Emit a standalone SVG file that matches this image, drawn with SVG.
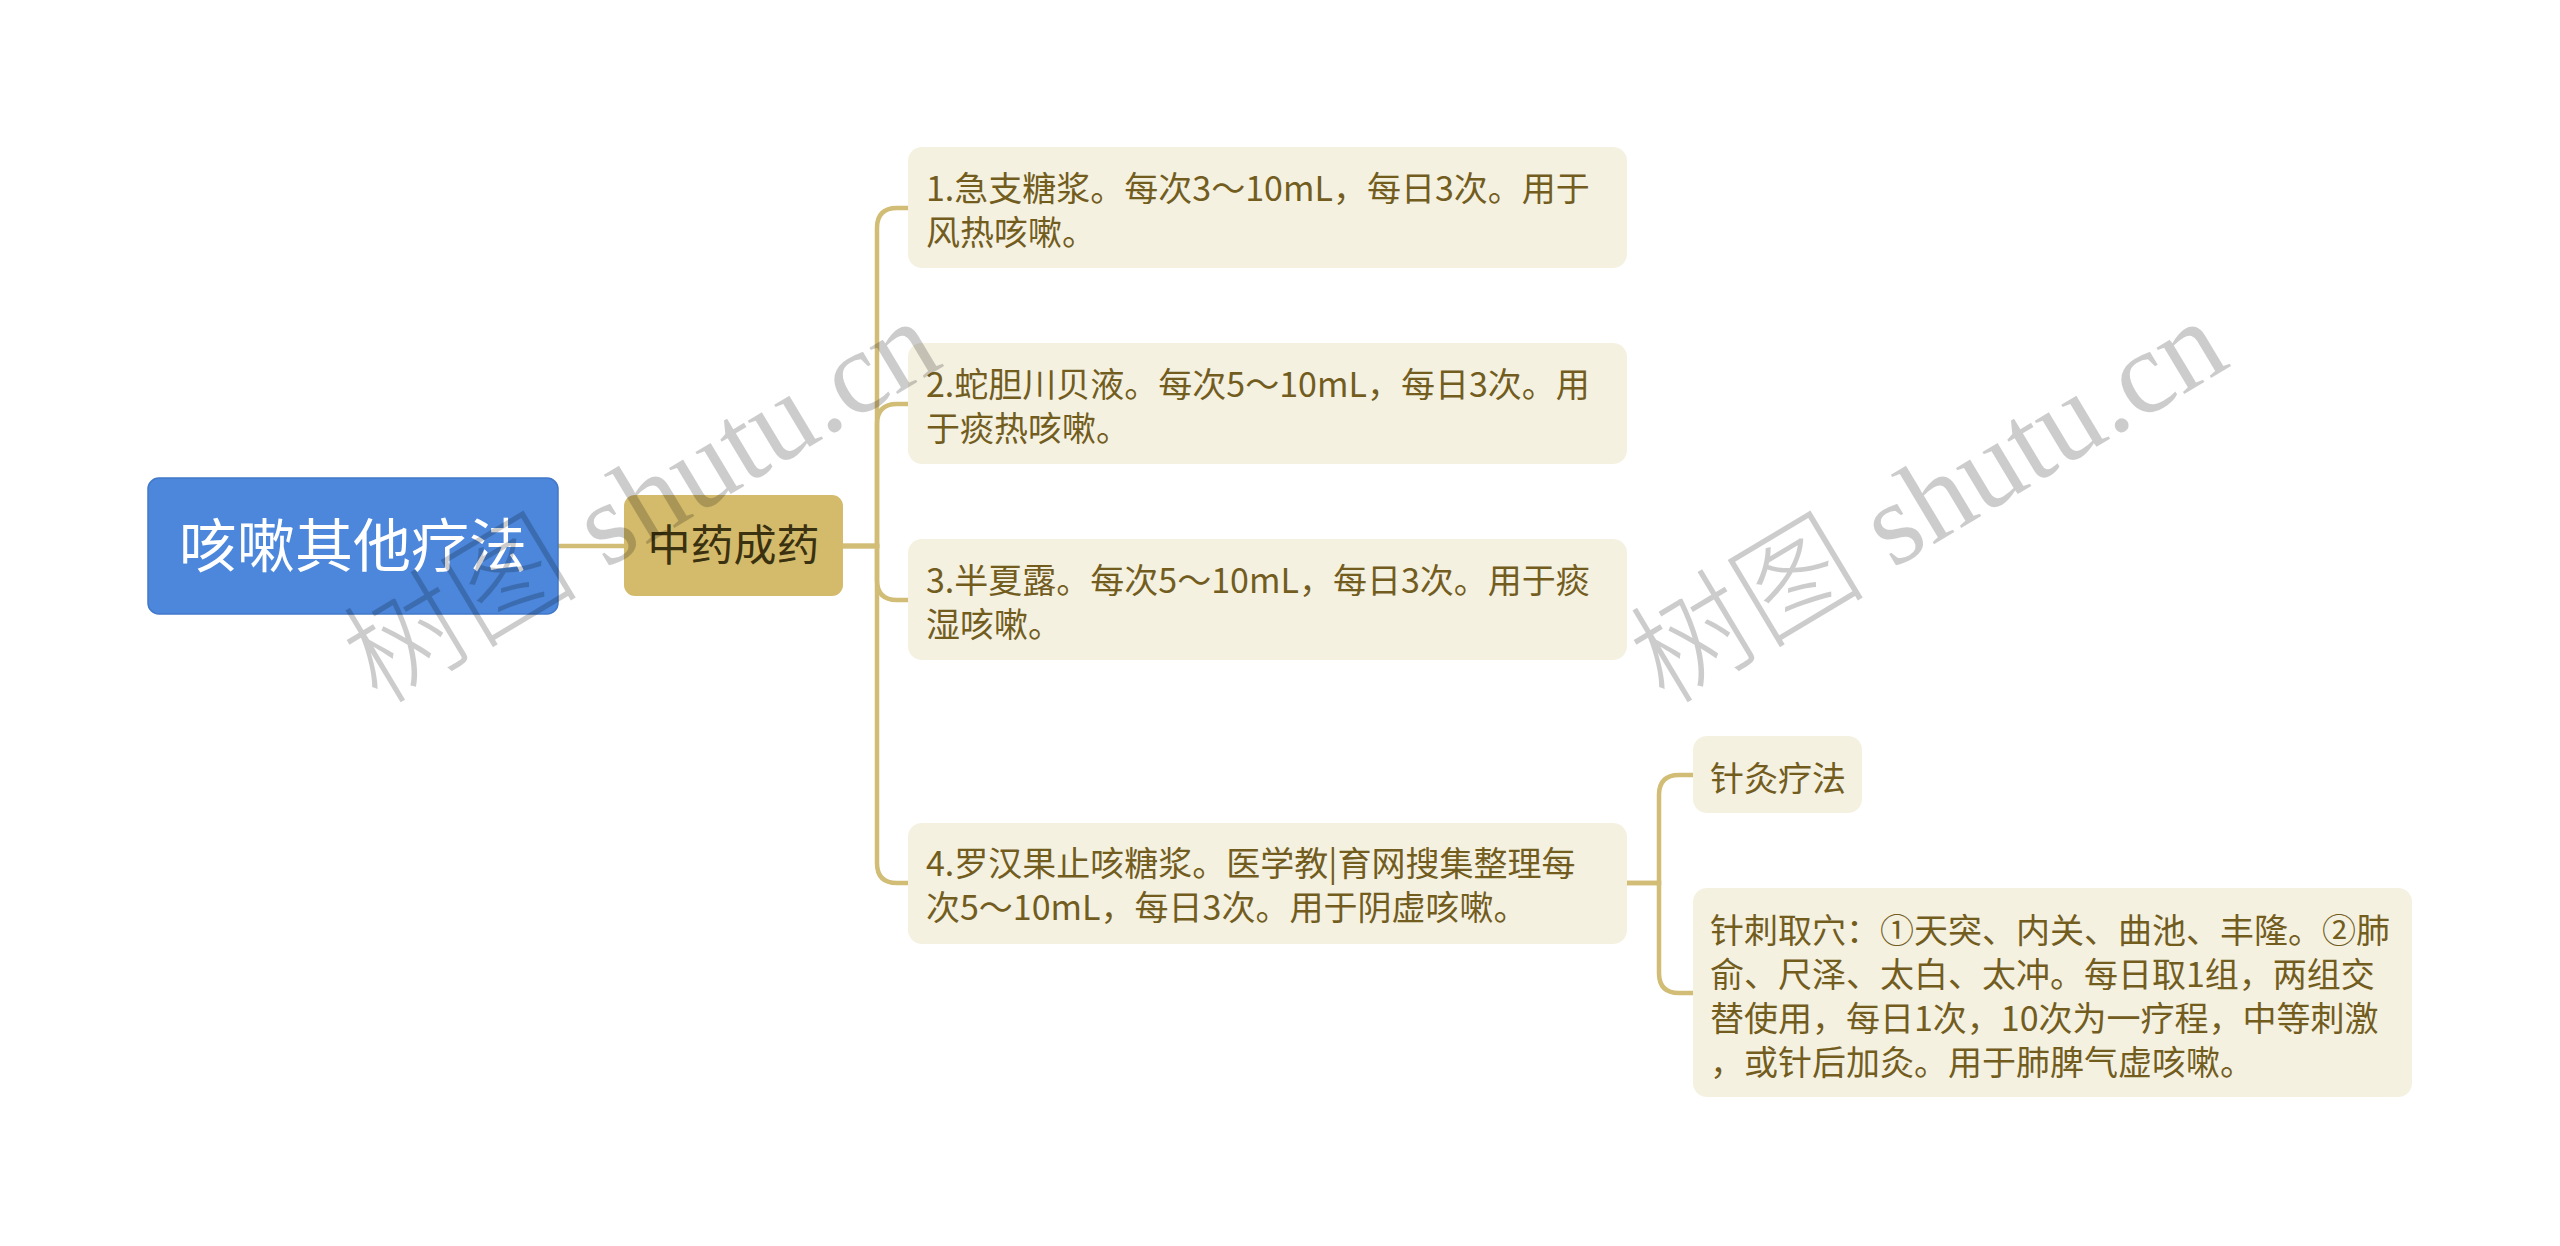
<svg xmlns="http://www.w3.org/2000/svg" width="2560" height="1246" viewBox="0 0 2560 1246">
<style>
.bg{fill:#ffffff}
.conn{fill:none;stroke:#d2bd76;stroke-width:4.5;stroke-linecap:round}
.leaf rect{fill:#f5f1e1}
.leaf text{font-family:"Noto Sans CJK SC","Noto Sans",sans-serif;font-size:34px;fill:#725d1f}
.wm{font-family:"Liberation Serif","Noto Sans CJK SC",serif;font-size:118px;font-weight:300;fill:#000;fill-opacity:0.2}
</style>
<rect class="bg" x="0" y="0" width="2560" height="1246"/>
<g id="connectors">
<path class="conn" d="M558 546 H624"/>
<path class="conn" d="M843 546 H877 V228 Q877 208 897 208 H908"/>
<path class="conn" d="M843 546 H877 V424 Q877 404 897 404 H908"/>
<path class="conn" d="M843 546 H877 V580 Q877 600 897 600 H908"/>
<path class="conn" d="M843 546 H877 V863 Q877 883 897 883 H908"/>
<path class="conn" d="M1627 883 H1659 V795 Q1659 775 1679 775 H1693"/>
<path class="conn" d="M1627 883 H1659 V973 Q1659 993 1679 993 H1693"/>
</g>
<g id="root">
<rect x="148" y="478" width="410" height="136" rx="11" fill="#4c87dc" stroke="#4178c8" stroke-width="1.5"/>
<text x="353" y="567" text-anchor="middle" font-family="Noto Sans CJK SC,Noto Sans,sans-serif" font-size="58" fill="#ffffff">咳嗽其他疗法</text>
</g>
<g id="n-zhongyao">
<rect x="624" y="495" width="219" height="101" rx="11" fill="#d4bb6b"/>
<text x="733.5" y="561" text-anchor="middle" font-family="Noto Sans CJK SC,Noto Sans,sans-serif" font-size="43" fill="#3a3110">中药成药</text>
</g>
<g id="n-1" class="leaf">
<rect x="908" y="147" width="719" height="121" rx="14"/>
<text x="926"><tspan x="926" y="201">1.急支糖浆。每次3～10mL，每日3次。用于</tspan><tspan x="926" y="245">风热咳嗽。</tspan></text>
</g>
<g id="n-2" class="leaf">
<rect x="908" y="343" width="719" height="121" rx="14"/>
<text x="926"><tspan x="926" y="397">2.蛇胆川贝液。每次5～10mL，每日3次。用</tspan><tspan x="926" y="441">于痰热咳嗽。</tspan></text>
</g>
<g id="n-3" class="leaf">
<rect x="908" y="539" width="719" height="121" rx="14"/>
<text x="926"><tspan x="926" y="593">3.半夏露。每次5～10mL，每日3次。用于痰</tspan><tspan x="926" y="637">湿咳嗽。</tspan></text>
</g>
<g id="n-4" class="leaf">
<rect x="908" y="823" width="719" height="121" rx="14"/>
<text x="926"><tspan x="926" y="876">4.罗汉果止咳糖浆。医学教|育网搜集整理每</tspan><tspan x="926" y="920">次5～10mL，每日3次。用于阴虚咳嗽。</tspan></text>
</g>
<g id="n-zhenjiu" class="leaf">
<rect x="1693" y="736" width="169" height="77" rx="14"/>
<text x="1710" y="791">针灸疗法</text>
</g>
<g id="n-zhenci" class="leaf">
<rect x="1693" y="888" width="719" height="209" rx="14"/>
<text x="1710"><tspan x="1710" y="943">针刺取穴：①天突、内关、曲池、丰隆。②肺</tspan><tspan x="1710" y="987">俞、尺泽、太白、太冲。每日取1组，两组交</tspan><tspan x="1710" y="1031">替使用，每日1次，10次为一疗程，中等刺激</tspan><tspan x="1710" y="1075">，或针后加灸。用于肺脾气虚咳嗽。</tspan></text>
</g>
<g id="watermarks">
<text class="wm" transform="translate(378 706) rotate(-31)">树图 shutu.cn</text>
<text class="wm" transform="translate(1665 706) rotate(-31)">树图 shutu.cn</text>
</g>
</svg>
